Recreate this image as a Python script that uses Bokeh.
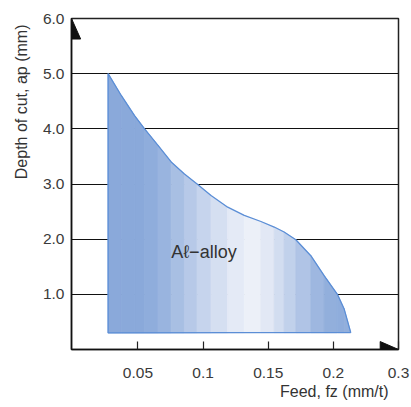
from bokeh.plotting import figure
from bokeh.models import FixedTicker, Label, Title
from bokeh.embed import file_html
from bokeh.resources import INLINE

# Boundary of the Al-alloy region (feed mm/t, depth mm)
curve_x = [0.0271, 0.0373, 0.0474, 0.0551, 0.0654, 0.0755, 0.0857, 0.0954, 0.1061, 0.1189,
           0.1316, 0.1444, 0.1546, 0.1622, 0.1712, 0.1827, 0.1929, 0.2031, 0.2082, 0.2133]
curve_y = [5.00, 4.60, 4.24, 4.00, 3.70, 3.40, 3.18, 3.00, 2.79, 2.58,
           2.43, 2.32, 2.22, 2.13, 1.99, 1.70, 1.34, 1.00, 0.74, 0.31]
floor_y = 0.30

x_ticks = [0.05, 0.1, 0.15, 0.2, 0.25]
x_labels = ["0.05", "0.1", "0.15", "0.2", "0.3"]
y_ticks = [1, 2, 3, 4, 5, 6]
y_labels = ["1.0", "2.0", "3.0", "4.0", "5.0", "6.0"]

region_name = "A\u2113\u2212alloy"
x_title = "Feed, fz (mm/t)"
y_title = "Depth of cut, ap (mm)"

# style: shading strength of each strip between consecutive boundary points
shade = [1.0, 1.0, 1.0, 0.95, 0.85, 0.7, 0.55, 0.4, 0.25, 0.1,
         0.02, 0.12, 0.28, 0.45, 0.62, 0.8, 0.92, 0.95, 0.92]

X0, X1 = -0.001, 0.25
Y0, Y1 = 0.0, 6.0

p = figure(width=410, height=405, x_range=(X0, X1), y_range=(Y0, Y1),
           output_backend="svg", toolbar_location=None,
           min_border_left=70, min_border_right=12, min_border_top=18, min_border_bottom=56)
p.background_fill_color = "white"
p.border_fill_color = "white"
p.outline_line_color = "#222222"
p.outline_line_width = 1.5

font = "Liberation Sans"

# axes
p.xaxis.ticker = FixedTicker(ticks=x_ticks)
p.xaxis.major_label_overrides = dict(zip(x_ticks, x_labels))
p.yaxis.ticker = FixedTicker(ticks=y_ticks)
p.yaxis.major_label_overrides = dict(zip(y_ticks, y_labels))
for ax in (p.xaxis[0], p.yaxis[0]):
    ax.axis_line_color = "#111111"
    ax.axis_line_width = 1.5
    ax.minor_tick_line_color = None
    ax.major_label_text_font = font
    ax.major_label_text_font_size = "15.5px"
    ax.major_label_text_color = "#3a3a3a"
p.xaxis.major_tick_in = 8
p.xaxis.major_tick_out = 0
p.xaxis.major_tick_line_color = "#222222"
p.xaxis.major_tick_line_width = 1.2
p.xaxis.major_label_standoff = 18
p.yaxis.major_tick_in = 0
p.yaxis.major_tick_out = 0
p.yaxis.major_label_standoff = 7

# axis titles, aligned to the far ends as in the original
p.add_layout(Title(text=x_title, align="right", offset=10, standoff=0,
                   text_font=font, text_font_size="16px", text_font_style="normal",
                   text_color="#333333"), "below")
p.add_layout(Title(text=y_title, align="right", offset=6, standoff=20,
                   text_font=font, text_font_size="16px", text_font_style="normal",
                   text_color="#333333"), "left")

p.xgrid.grid_line_color = None
p.ygrid.ticker = FixedTicker(ticks=y_ticks)
p.ygrid.grid_line_color = "#111111"
p.ygrid.grid_line_width = 1.2

# shaded strips (approximate the horizontal colour gradient)
light = (238, 241, 249)
dark = (138, 169, 218)
def mix(t):
    return "#%02x%02x%02x" % tuple(round(l + (d - l) * t) for l, d in zip(light, dark))

for i in range(len(curve_x) - 1):
    sx = [curve_x[i], curve_x[i], curve_x[i + 1], curve_x[i + 1]]
    sy = [floor_y, curve_y[i], curve_y[i + 1], floor_y]
    c = mix(shade[i])
    p.patch(sx, sy, fill_color=c, line_color=c, line_width=0.8)

poly_x = [curve_x[0]] + curve_x + [curve_x[0]]
poly_y = [floor_y] + curve_y + [floor_y]
p.patch(poly_x, poly_y, fill_color=None, line_color="#5b8ed6", line_width=1.3)

# arrow heads on axes
dx = (X1 - X0) * 0.028
dy = (Y1 - Y0) * 0.062
p.patch([X0, X0, X0 + dx], [Y1, Y1 - dy, Y1 - dy], fill_color="#111111", line_color="#111111")
ax_dx = (X1 - X0) * 0.056
ax_dy = (Y1 - Y0) * 0.024
p.patch([X1 - ax_dx, X1 - ax_dx, X1], [Y0 + ax_dy, Y0, Y0], fill_color="#111111", line_color="#111111")

# region name
p.add_layout(Label(x=0.0756, y=1.76, text=region_name, text_font=font, text_font_size="18px",
                   text_color="#333333", text_baseline="middle", text_align="left"))

open("out.html", "w").write(file_html(p, INLINE))
